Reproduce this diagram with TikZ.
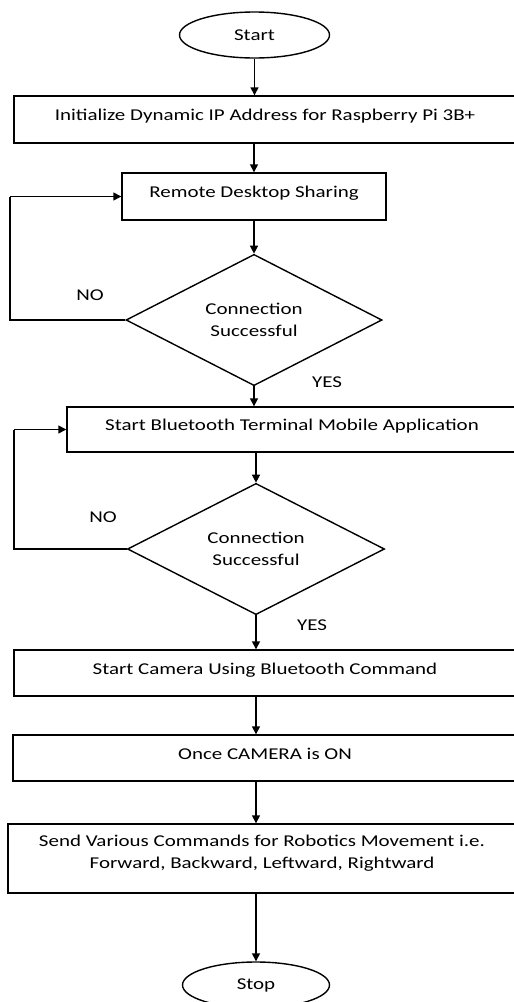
\documentclass[tikz,border=0pt]{standalone}
\usepackage{fontspec}
\setmainfont{Carlito}[FakeStretch=1.27]
\usetikzlibrary{shapes.geometric,arrows.meta}
\begin{document}
\begin{tikzpicture}[x=1pt,y=-1pt,
  every node/.style={font=\fontsize{16.5}{22.5}\selectfont},
  line/.style={line width=1.4pt},
  arr/.style={line, -{Triangle[length=8pt,width=8pt]}},
  procbox/.style={draw, line width=1.4pt, rectangle, inner sep=0pt, text height=11pt, text depth=9pt},
  term/.style={draw, line width=1.4pt, ellipse, inner sep=0pt},
  decide/.style={draw, line width=1.4pt, diamond, inner sep=0pt, align=center},
  lbl/.style={inner sep=0pt}]
\useasboundingbox (0,0) rectangle (514,1002);
\node[term, minimum width=150pt, minimum height=46pt] (start) at (254.5,35) {Start};
\node[procbox, minimum width=502pt, minimum height=47pt] (init) at (265,119.5) {Initialize Dynamic IP Address for Raspberry Pi 3B+};
\node[procbox, minimum width=264pt, minimum height=47pt] (rds) at (254,196.5) {Remote Desktop Sharing};
\node[decide, minimum width=256pt, minimum height=127pt] (d1) at (254,320) {Connection\\Successful};
\node[procbox, minimum width=450pt, minimum height=45pt] (bt) at (292,429.5) {Start Bluetooth Terminal Mobile Application};
\node[decide, minimum width=257pt, minimum height=125pt] (d2) at (256,549) {Connection\\Successful};
\node[procbox, minimum width=502pt, minimum height=46pt] (cam) at (265,673) {Start Camera Using Bluetooth Command};
\node[procbox, minimum width=504pt, minimum height=46pt] (on) at (265,758) {Once CAMERA is ON};
\node[procbox, minimum width=508pt, minimum height=69pt, align=center, text height=29pt, text depth=9pt] (send) at (262,858.5) {Send Various Commands for Robotics Movement i.e.\\Forward, Backward, Leftward, Rightward};
\node[term, minimum width=147pt, minimum height=46pt] (stop) at (256,985) {Stop};
\node[lbl] (no1) at (90,295) {NO};
\node[lbl] (yes1) at (327,382) {YES};
\node[lbl] (no2) at (103,517) {NO};
\node[lbl] (yes2) at (312,625) {YES};
\coordinate (c1a) at (10,320);
\coordinate (c1b) at (10,196.5);
\coordinate (c2a) at (14,549);
\coordinate (c2b) at (14,429.5);
\draw[arr] (start.south) -- (start.south |- init.north);
\draw[arr] (rds.north |- init.south) -- (rds.north);
\draw[arr] (rds.south) -- (d1.north);
\draw[line] (d1.west) -- (c1a) -- (c1b);
\draw[arr] (c1b) -- (rds.west);
\draw[arr] (d1.south) -- (d1.south |- bt.north);
\draw[arr] (d2.north |- bt.south) -- (d2.north);
\draw[line] (d2.west) -- (c2a) -- (c2b);
\draw[arr] (c2b) -- (bt.west);
\draw[arr] (d2.south) -- (d2.south |- cam.north);
\draw[arr] (d2.south |- cam.south) -- (d2.south |- on.north);
\draw[arr] (d2.south |- on.south) -- (d2.south |- send.north);
\draw[arr] (d2.south |- send.south) -- (stop.north);
\end{tikzpicture}
\end{document}
